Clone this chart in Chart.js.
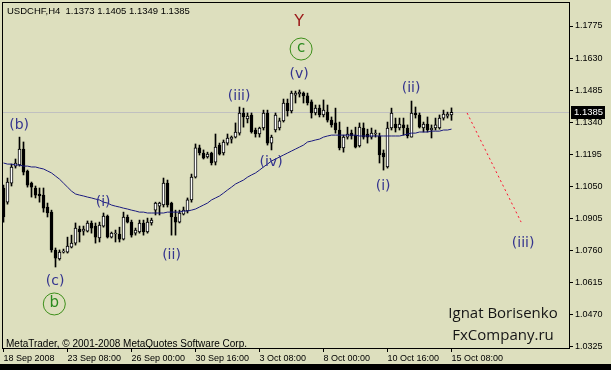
<!DOCTYPE html>
<html>
<head>
<meta charset="utf-8">
<script src="https://cdn.jsdelivr.net/npm/chart.js@4"></script>
<style>
  html, body { margin: 0; padding: 0; background: #dddfbe; }
  canvas { display: block; }
</style>
</head>
<body>
<canvas id="chart" width="611" height="370"></canvas>
<script>
// USDCHF H4, 18 Sep - 15 Oct 2008, one entry per 4h bar
const opens = [
  1.1043, 1.0979, 1.1065, 1.1142, 1.1147, 1.1219, 1.1120, 1.1065, 1.1043, 1.1016,
  1.1011, 1.0957, 1.0934, 1.0763, 1.0722, 1.0753, 1.0753, 1.0776, 1.0794, 1.0857,
  1.0848, 1.0848, 1.0885, 1.0871, 1.0817, 1.0871, 1.0916, 1.0821, 1.0835, 1.0835,
  1.0812, 1.0912, 1.0889, 1.0839, 1.0844, 1.0885, 1.0844, 1.0885, 1.0943, 1.0961,
  1.0966, 1.1065, 1.0975, 1.0912, 1.0889, 1.0925, 1.0939, 1.0989, 1.1092, 1.1224,
  1.1201, 1.1183, 1.1201, 1.1160, 1.1237, 1.1201, 1.1246, 1.1264, 1.1273, 1.1291,
  1.1382, 1.1355, 1.1373, 1.1305, 1.1287, 1.1314, 1.1382, 1.1246, 1.1305, 1.1314,
  1.1346, 1.1427, 1.1391, 1.1463, 1.1468, 1.1472, 1.1459, 1.1432, 1.1382, 1.1404,
  1.1373, 1.1386, 1.1350, 1.1337, 1.1305, 1.1224, 1.1273, 1.1291, 1.1282, 1.1233,
  1.1314, 1.1287, 1.1273, 1.1287, 1.1278, 1.1201, 1.1138, 1.1314, 1.1332, 1.1314,
  1.1328, 1.1314, 1.1273, 1.1382, 1.1373, 1.1314, 1.1332, 1.1305, 1.1314, 1.1314,
  1.1359, 1.1368, 1.1373
];
const highs = [
  1.1056, 1.1088, 1.1151, 1.1174, 1.1273, 1.1251, 1.1124, 1.1070, 1.1052, 1.1043,
  1.1043, 1.0975, 1.0943, 1.0772, 1.0763, 1.0767, 1.0821, 1.0830, 1.0885, 1.0871,
  1.0871, 1.0894, 1.0894, 1.0885, 1.0889, 1.0930, 1.0921, 1.0844, 1.0853, 1.0866,
  1.0934, 1.0921, 1.0898, 1.0862, 1.0898, 1.0898, 1.0907, 1.0907, 1.0979, 1.0979,
  1.1088, 1.1079, 1.0979, 1.0943, 1.0943, 1.0957, 1.0998, 1.1106, 1.1242, 1.1237,
  1.1215, 1.1205, 1.1205, 1.1287, 1.1246, 1.1260, 1.1287, 1.1278, 1.1337, 1.1409,
  1.1404, 1.1382, 1.1382, 1.1314, 1.1318, 1.1395, 1.1395, 1.1282, 1.1382, 1.1359,
  1.1445, 1.1445, 1.1481, 1.1481, 1.1486, 1.1477, 1.1472, 1.1441, 1.1418, 1.1418,
  1.1441, 1.1418, 1.1364, 1.1404, 1.1341, 1.1282, 1.1318, 1.1305, 1.1318, 1.1337,
  1.1337, 1.1309, 1.1314, 1.1305, 1.1291, 1.1215, 1.1341, 1.1404, 1.1359, 1.1359,
  1.1359, 1.1328, 1.1436, 1.1409, 1.1382, 1.1341, 1.1364, 1.1328, 1.1359, 1.1373,
  1.1395, 1.1386, 1.1405
];
const lows = [
  1.0889, 1.0970, 1.1052, 1.1133, 1.1142, 1.1102, 1.1047, 1.1002, 1.0998, 1.0979,
  1.0934, 1.0912, 1.0753, 1.0686, 1.0717, 1.0749, 1.0749, 1.0772, 1.0785, 1.0799,
  1.0830, 1.0844, 1.0839, 1.0794, 1.0799, 1.0866, 1.0817, 1.0817, 1.0799, 1.0799,
  1.0808, 1.0885, 1.0821, 1.0830, 1.0839, 1.0830, 1.0839, 1.0875, 1.0921, 1.0921,
  1.0957, 1.0957, 1.0830, 1.0830, 1.0885, 1.0921, 1.0930, 1.0979, 1.1088, 1.1192,
  1.1174, 1.1178, 1.1147, 1.1147, 1.1192, 1.1192, 1.1237, 1.1246, 1.1269, 1.1282,
  1.1318, 1.1337, 1.1291, 1.1273, 1.1273, 1.1305, 1.1237, 1.1215, 1.1296, 1.1305,
  1.1341, 1.1368, 1.1382, 1.1427, 1.1454, 1.1427, 1.1418, 1.1359, 1.1373, 1.1364,
  1.1364, 1.1341, 1.1318, 1.1291, 1.1215, 1.1205, 1.1264, 1.1264, 1.1224, 1.1228,
  1.1264, 1.1246, 1.1264, 1.1273, 1.1156, 1.1124, 1.1133, 1.1305, 1.1296, 1.1305,
  1.1282, 1.1269, 1.1273, 1.1359, 1.1314, 1.1296, 1.1296, 1.1269, 1.1305, 1.1309,
  1.1350, 1.1359, 1.1349
];
const closes = [
  1.0912, 1.1070, 1.1138, 1.1156, 1.1219, 1.1115, 1.1056, 1.1047, 1.1011, 1.1007,
  1.0952, 1.0930, 1.0763, 1.0726, 1.0753, 1.0758, 1.0781, 1.0794, 1.0862, 1.0844,
  1.0857, 1.0885, 1.0862, 1.0821, 1.0875, 1.0916, 1.0821, 1.0839, 1.0839, 1.0812,
  1.0912, 1.0889, 1.0830, 1.0853, 1.0885, 1.0844, 1.0889, 1.0898, 1.0975, 1.0975,
  1.1065, 1.0966, 1.0912, 1.0889, 1.0930, 1.0943, 1.0989, 1.1092, 1.1224, 1.1201,
  1.1178, 1.1196, 1.1156, 1.1228, 1.1196, 1.1251, 1.1269, 1.1273, 1.1296, 1.1382,
  1.1364, 1.1368, 1.1296, 1.1287, 1.1314, 1.1382, 1.1246, 1.1273, 1.1373, 1.1346,
  1.1427, 1.1391, 1.1472, 1.1472, 1.1477, 1.1459, 1.1427, 1.1382, 1.1404, 1.1373,
  1.1395, 1.1350, 1.1328, 1.1305, 1.1224, 1.1273, 1.1287, 1.1278, 1.1228, 1.1318,
  1.1273, 1.1273, 1.1291, 1.1291, 1.1192, 1.1183, 1.1314, 1.1382, 1.1314, 1.1332,
  1.1314, 1.1278, 1.1382, 1.1373, 1.1318, 1.1332, 1.1305, 1.1314, 1.1328, 1.1359,
  1.1377, 1.1377, 1.1385
];
// moving average drawn over the bars
const maValues = [
  1.1156, 1.1151, 1.1151, 1.1147, 1.1147, 1.1142, 1.1142, 1.1138, 1.1138, 1.1133,
  1.1129, 1.1120, 1.1111, 1.1097, 1.1083, 1.1065, 1.1047, 1.1029, 1.1016, 1.1011,
  1.1007, 1.1002, 1.0998, 1.0993, 1.0989, 1.0979, 1.0975, 1.0966, 1.0961, 1.0957,
  1.0952, 1.0948, 1.0943, 1.0939, 1.0934, 1.0934, 1.0930, 1.0930, 1.0930, 1.0930,
  1.0930, 1.0934, 1.0934, 1.0934, 1.0934, 1.0939, 1.0939, 1.0943, 1.0948, 1.0957,
  1.0966, 1.0975, 1.0989, 1.0998, 1.1007, 1.1020, 1.1034, 1.1047, 1.1061, 1.1070,
  1.1079, 1.1092, 1.1102, 1.1111, 1.1124, 1.1138, 1.1151, 1.1165, 1.1174, 1.1183,
  1.1192, 1.1201, 1.1210, 1.1219, 1.1228, 1.1237, 1.1251, 1.1255, 1.1260, 1.1264,
  1.1273, 1.1278, 1.1282, 1.1282, 1.1282, 1.1282, 1.1282, 1.1282, 1.1282, 1.1278,
  1.1278, 1.1278, 1.1278, 1.1278, 1.1278, 1.1278, 1.1278, 1.1278, 1.1278, 1.1278,
  1.1282, 1.1287, 1.1291, 1.1291, 1.1296, 1.1296, 1.1296, 1.1300, 1.1300, 1.1300,
  1.1305, 1.1305, 1.1309
];

// axis ticks
const tickBars = [0, 16, 32, 48, 64, 80, 96, 112];
const tickLabels = ['18 Sep 2008', '23 Sep 08:00', '26 Sep 00:00', '30 Sep 16:00',
  '3 Oct 08:00', '8 Oct 00:00', '10 Oct 16:00', '15 Oct 08:00'];
const priceTicks = [1.1775, 1.1630, 1.1485, 1.1340, 1.1195, 1.1050, 1.0905, 1.0760, 1.0615, 1.0470, 1.0325];

// projected move (bar index, price)
const forecastBars = [115.9, 129.4];
const forecastPrices = [1.1382, 1.0889];

// wave count marks (bar index, price)
const waveLabels = [
  { text: 'Y', bar: 73.9, price: 1.1793, kind: 'major' },
  { text: 'c', bar: 74.4, price: 1.1671, kind: 'circle' },
  { text: '(v)', bar: 73.9, price: 1.1558 },
  { text: '(iii)', bar: 58.9, price: 1.1459 },
  { text: '(iv)', bar: 66.9, price: 1.1160 },
  { text: '(b)', bar: 3.9, price: 1.1325 },
  { text: '(i)', bar: 24.9, price: 1.0977 },
  { text: '(ii)', bar: 42.0, price: 1.0740 },
  { text: '(c)', bar: 12.9, price: 1.0623 },
  { text: 'b', bar: 12.7, price: 1.0519, kind: 'circle' },
  { text: '(ii)', bar: 101.9, price: 1.1495 },
  { text: '(i)', bar: 94.9, price: 1.1052 },
  { text: '(iii)', bar: 129.9, price: 1.0794 }
];

const symbolLine = 'USDCHF,H4  1.1373 1.1405 1.1349 1.1385';
const copyright = 'MetaTrader, \u00a9 2001-2008 MetaQuotes Software Corp.';
const signature = ['Ignat Borisenko', 'FxCompany.ru'];

const bg = '#dddfbe';
const axisFont = { family: 'Liberation Sans', size: 9 };

const wicks = lows.map((l, i) => ({ x: i, y: [l, highs[i]] }));
const bodies = opens.map((o, i) => ({ x: i, y: [o, closes[i]] }));
const bodyFill = opens.map((o, i) => closes[i] >= o ? '#ffffff' : '#000000');
const maPoints = maValues.map((v, i) => ({ x: i, y: v }));
const forecast = forecastBars.map((b, i) => ({ x: b, y: forecastPrices[i] }));
const lastClose = closes[closes.length - 1];

const decor = {
  id: 'decor',
  beforeDraw(chart) {
    const ctx = chart.ctx;
    ctx.save();
    ctx.fillStyle = bg;
    ctx.fillRect(0, 0, chart.width, chart.height);
    ctx.restore();
  },
  beforeDatasetsDraw(chart) {
    // bid line
    const { ctx, chartArea: a } = chart;
    const py = Math.round(chart.scales.y.getPixelForValue(lastClose)) + 0.5;
    ctx.save();
    ctx.strokeStyle = '#c0c0c0';
    ctx.lineWidth = 1;
    ctx.beginPath();
    ctx.moveTo(a.left, py);
    ctx.lineTo(a.right, py);
    ctx.stroke();
    ctx.restore();
  },
  afterDraw(chart) {
    const { ctx, chartArea: a } = chart;
    const xs = chart.scales.x, ys = chart.scales.y;
    ctx.save();

    // frame
    ctx.strokeStyle = '#000';
    ctx.lineWidth = 1;
    ctx.strokeRect(a.left - 0.5, a.top - 0.5, a.right - a.left + 1, a.bottom - a.top + 1);

    // bottom band
    ctx.fillStyle = '#000';
    ctx.fillRect(0, 364, chart.width, chart.height - 364);

    // price tag
    const py = Math.round(ys.getPixelForValue(lastClose));
    ctx.fillRect(a.right + 2, py - 6, 34, 13);
    ctx.fillStyle = '#fff';
    ctx.font = '9.5px "Liberation Sans"';
    ctx.textBaseline = 'middle';
    ctx.textAlign = 'left';
    ctx.fillText(lastClose.toFixed(4), a.right + 5, py + 0.5);

    // header and footer texts
    ctx.fillStyle = '#000';
    ctx.textBaseline = 'alphabetic';
    ctx.fillText(symbolLine, 7, 14);
    ctx.font = '10px "Liberation Sans"';
    ctx.fillText(copyright, 6, 347);

    ctx.fillStyle = '#151515';
    ctx.font = '15px "Open Sans"';
    ctx.textAlign = 'center';
    ctx.textBaseline = 'middle';
    ctx.fillText(signature[0], 503, 314);
    ctx.fillText(signature[1], 503, 336);

    // wave labels
    waveLabels.forEach(w => {
      const x = xs.getPixelForValue(w.bar);
      const y = ys.getPixelForValue(w.price);
      if (w.kind === 'circle') {
        ctx.strokeStyle = '#3d8f1a';
        ctx.lineWidth = 1;
        ctx.beginPath();
        ctx.arc(x, y, 11, 0, Math.PI * 2);
        ctx.stroke();
        ctx.fillStyle = '#2a8a1e';
        ctx.font = '15px "DejaVu Sans"';
        ctx.fillText(w.text, x, y - 1);
      } else if (w.kind === 'major') {
        ctx.fillStyle = '#9c1a1a';
        ctx.font = '16px "DejaVu Sans"';
        ctx.fillText(w.text, x, y);
      } else {
        ctx.fillStyle = '#34348f';
        ctx.font = '14px "DejaVu Sans"';
        ctx.fillText(w.text, x, y);
      }
    });
    ctx.restore();
  }
};

new Chart(document.getElementById('chart'), {
  type: 'bar',
  data: {
    datasets: [
      {
        label: 'wicks',
        data: wicks,
        backgroundColor: '#000',
        borderWidth: 0,
        barThickness: 1,
        grouped: false,
        order: 4
      },
      {
        label: 'bodies',
        data: bodies,
        backgroundColor: bodyFill,
        borderColor: '#000',
        borderWidth: 1,
        borderSkipped: false,
        barThickness: 3,
        minBarLength: 1,
        grouped: false,
        order: 3
      },
      {
        type: 'line',
        label: 'MA',
        data: maPoints,
        borderColor: '#1b1b80',
        borderWidth: 1,
        pointRadius: 0,
        tension: 0,
        order: 2
      },
      {
        type: 'line',
        label: 'forecast',
        data: forecast,
        borderColor: '#ff1030',
        borderWidth: 1,
        borderDash: [2, 3],
        pointRadius: 0,
        order: 1
      }
    ]
  },
  options: {
    responsive: false,
    animation: false,
    devicePixelRatio: 1,
    events: [],
    layout: { padding: { left: 3, top: 3, right: 0, bottom: 0 } },
    plugins: { legend: { display: false }, tooltip: { enabled: false } },
    scales: {
      x: {
        type: 'linear',
        min: -0.125,
        max: 141.375,
        offset: false,
        border: { display: false },
        grid: { drawOnChartArea: false, drawTicks: true, tickLength: 4, color: '#000', offset: false },
        afterBuildTicks: s => { s.ticks = tickBars.map(v => ({ value: v })); },
        afterFit: s => { s.height = 22; s.paddingLeft = 0; s.paddingRight = 0; },
        ticks: {
          autoSkip: false,
          maxRotation: 0,
          align: 'start',
          padding: 1,
          color: '#000',
          font: axisFont,
          callback: v => tickLabels[tickBars.indexOf(v)]
        }
      },
      y: {
        position: 'right',
        min: 1.0320,
        max: 1.1879,
        border: { display: false },
        grid: { drawOnChartArea: false, drawTicks: true, tickLength: 4, color: '#000' },
        afterBuildTicks: s => { s.ticks = priceTicks.map(v => ({ value: v })); },
        afterFit: s => { s.width = 42; s.paddingTop = 0; s.paddingBottom = 0; },
        ticks: {
          padding: 2,
          color: '#000',
          font: axisFont,
          callback: v => v.toFixed(4)
        }
      }
    }
  },
  plugins: [decor]
});
</script>
</body>
</html>
